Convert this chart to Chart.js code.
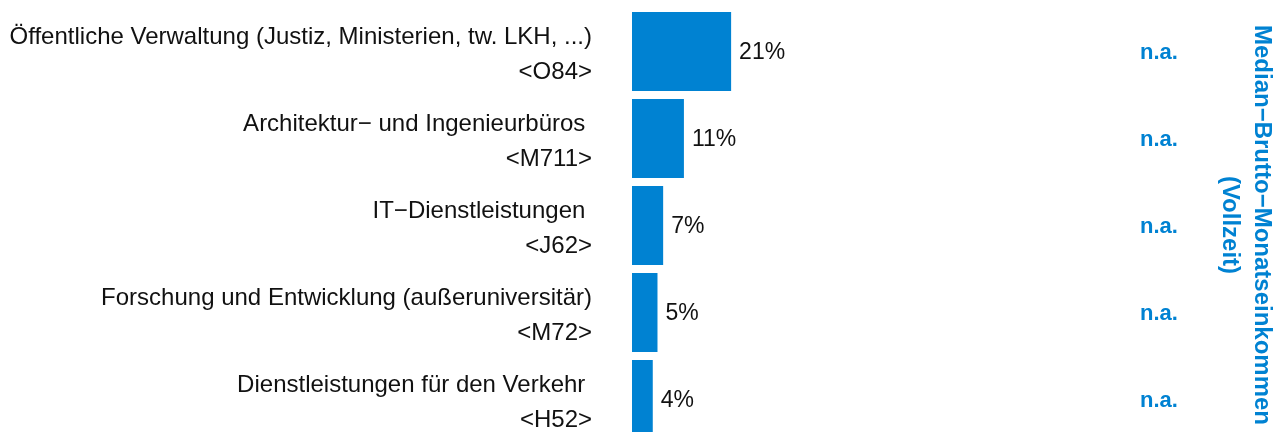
<!DOCTYPE html>
<html>
<head>
<meta charset="utf-8">
<script src="https://cdn.jsdelivr.net/npm/chart.js@4"></script>
<style>
  html, body { margin: 0; padding: 0; background: #fff; overflow: hidden; }
  #wrap { width: 1280px; height: 445px; }
</style>
</head>
<body>
<div id="wrap"><canvas id="chart" width="1280" height="445"></canvas></div>
<script>
// data
var branchen = [
    "Öffentliche Verwaltung (Justiz, Ministerien, tw. LKH, ...)",
    "Architektur− und Ingenieurbüros ",
    "IT−Dienstleistungen ",
    "Forschung und Entwicklung (außeruniversitär)",
    "Dienstleistungen für den Verkehr "
];
var codes = ["<O84>", "<M711>", "<J62>", "<M72>", "<H52>"];
var anteile = [21, 11, 6.6, 5.4, 4.4];
var einkommen = ["n.a.", "n.a.", "n.a.", "n.a.", "n.a."];
var einkommenTitel = ["Median−Brutto−Monatseinkommen", "(Vollzeit)"];

var BLUE = "#0082d2";

var labels = [];
for (var i = 0; i < branchen.length; i++) {
    labels.push([branchen[i], codes[i]]);
}

// percent next to each bar, n.a. column and rotated title
var extras = {
    id: "extras",
    afterDatasetsDraw: function(chart) {
        var ctx = chart.ctx;
        var bars = chart.getDatasetMeta(0).data;
        ctx.save();
        ctx.textBaseline = "middle";
        bars.forEach(function(bar, i) {
            ctx.font = "23px 'Liberation Sans', Arial, sans-serif";
            ctx.fillStyle = "#111";
            ctx.textAlign = "left";
            ctx.fillText(Math.round(anteile[i]) + "%", bar.x + 8, bar.y + 1);

            ctx.font = "bold 22px 'Liberation Sans', Arial, sans-serif";
            ctx.fillStyle = BLUE;
            ctx.textAlign = "center";
            ctx.fillText(einkommen[i], 1159, bar.y + 1);
        });

        ctx.translate(1255, 225);
        ctx.rotate(Math.PI / 2);
        ctx.font = "bold 24px 'Liberation Sans', Arial, sans-serif";
        ctx.fillStyle = BLUE;
        ctx.textAlign = "center";
        ctx.textBaseline = "alphabetic";
        ctx.fillText(einkommenTitel[0], 0, 0);
        ctx.fillText(einkommenTitel[1], 0, 32);
        ctx.restore();
    }
};

new Chart(document.getElementById("chart"), {
    type: "bar",
    data: {
        labels: labels,
        datasets: [{
            data: anteile,
            backgroundColor: BLUE,
            borderWidth: 0,
            barPercentage: 0.908,
            categoryPercentage: 1
        }]
    },
    options: {
        indexAxis: "y",
        responsive: false,
        animation: false,
        layout: { padding: { top: 8, right: 176, bottom: 2, left: 0 } },
        plugins: {
            legend: { display: false },
            tooltip: { enabled: false }
        },
        scales: {
            x: {
                display: false,
                min: 0,
                max: 100
            },
            y: {
                grid: { display: false, drawTicks: false },
                border: { display: false },
                ticks: {
                    color: "#111",
                    padding: 40,
                    labelOffset: 3,
                    font: { family: "'Liberation Sans', Arial, sans-serif", size: 24, lineHeight: 1.45 }
                },
                afterFit: function(scale) {
                    scale.width = 632;
                    // labels may hang over the edges, no extra margin
                    scale.paddingTop = 0;
                    scale.paddingBottom = 0;
                }
            }
        }
    },
    plugins: [extras]
});
</script>
</body>
</html>
